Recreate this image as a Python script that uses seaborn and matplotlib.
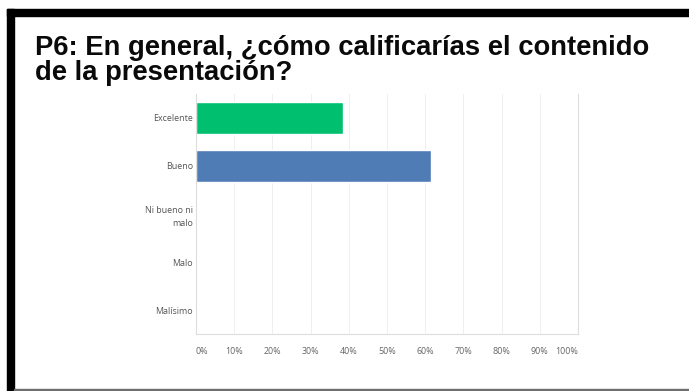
import matplotlib
matplotlib.use("Agg")
import matplotlib.pyplot as plt
from matplotlib.patches import Rectangle
import seaborn as sns
import pandas as pd

# Survey answers and share of respondents (%)
categories = ["Excelente", "Bueno", "Ni bueno ni\nmalo", "Malo", "Malísimo"]
shares = [38.46, 61.54, 0.0, 0.0, 0.0]
bar_colors = ["#00bf6f", "#507cb6", "#9e9e9e", "#9e9e9e", "#9e9e9e"]
x_ticks = [0, 10, 20, 30, 40, 50, 60, 70, 80, 90, 100]
x_tick_labels = ["0%", "10%", "20%", "30%", "40%", "50%", "60%", "70%", "80%", "90%", "100%"]
title = "P6: En general, ¿cómo calificarías el contenido\nde la presentación?"

sns.set_theme(style="white")
plt.rcParams["font.family"] = ["Open Sans", "DejaVu Sans"]

W, H = 689, 391
fig = plt.figure(figsize=(W / 100, H / 100), dpi=100)
fig.patch.set_facecolor("white")

# Slide frame: black band on top, black strip on the left, grey rule at the bottom
fig.patches.append(Rectangle((7 / W, 1 - 16 / H), 1 - 7 / W, 7 / H,
                             transform=fig.transFigure, color="black", zorder=5))
fig.patches.append(Rectangle((7 / W, 0), 7 / W, 1 - 9 / H,
                             transform=fig.transFigure, color="black", zorder=5))
fig.patches.append(Rectangle((14 / W, 0), 1 - 14 / W, 2 / H,
                             transform=fig.transFigure, color="#6f6f6f", zorder=5))

ax = fig.add_axes([196 / W, (H - 334) / H, (578 - 196) / W, (334 - 94) / H])

df = pd.DataFrame({"categoria": categories, "porcentaje": shares})
sns.barplot(data=df, x="porcentaje", y="categoria", hue="categoria",
            palette=bar_colors, orient="h", width=0.667, legend=False,
            saturation=1, ax=ax)

ax.set_xlim(0, 100)
ax.set_ylim(4.5, -0.5)
ax.set_xlabel("")
ax.set_ylabel("")
ax.set_xticks(x_ticks)
ax.set_xticklabels(x_tick_labels)
for lbl in ax.get_xticklabels():
    lbl.set_horizontalalignment("center")
ax.get_xticklabels()[0].set_horizontalalignment("left")
ax.get_xticklabels()[-1].set_horizontalalignment("right")
for lbl in ax.get_yticklabels():
    lbl.set_linespacing(1.55)

ax.tick_params(axis="x", length=0, pad=9, labelsize=6.4, labelcolor="#666666")
ax.tick_params(axis="y", length=0, pad=2, labelsize=6.4, labelcolor="#555555")

ax.xaxis.grid(True, color="#efefef", linewidth=0.7)
ax.set_axisbelow(True)
for side in ["left", "bottom", "right"]:
    ax.spines[side].set_visible(True)
    ax.spines[side].set_color("#dddddd")
    ax.spines[side].set_linewidth(0.8)
ax.spines["top"].set_visible(False)

fig.text(35 / W, 1 - 35 / H, title, ha="left", va="top",
         fontsize=19.7, fontweight="bold", color="#0a0a0a",
         family=["Liberation Sans", "DejaVu Sans"], linespacing=0.95)

fig.savefig("out.png", dpi=100)
